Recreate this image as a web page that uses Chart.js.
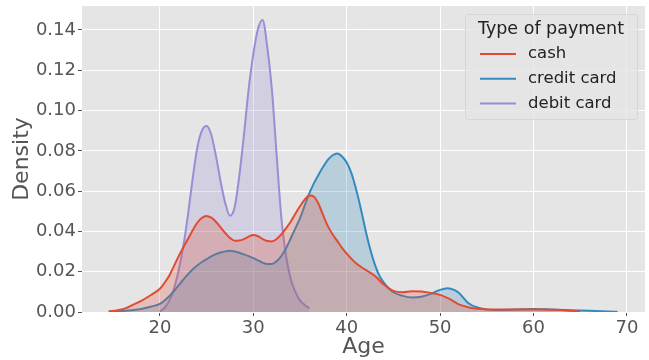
<!DOCTYPE html>
<html>
<head>
<meta charset="utf-8">
<script src="https://cdn.jsdelivr.net/npm/chart.js@4.4.0/dist/chart.umd.min.js"></script>
<style>
  html, body { margin: 0; padding: 0; background: #fff; }
  #wrap { width: 649px; height: 360px; }
</style>
</head>
<body>
<div id="wrap"><canvas id="kdeChart" width="649" height="360"></canvas></div>
<script>
// series (age -> density)
const seriesNames = ['cash', 'credit card', 'debit card'];
const lineColors = ['#E24A33', '#348ABD', '#988ED5'];
const fillColors = ['rgba(226,74,51,0.25)', 'rgba(52,138,189,0.25)', 'rgba(152,142,213,0.25)'];

const cashAge = [14.5, 15.5, 16.5, 17, 18, 19,
  20, 20.5, 21, 21.5, 22, 22.5, 23, 23.5, 24, 24.5, 25, 25.5, 26, 26.5, 27, 27.5, 28, 28.5, 29, 29.5,
  30, 30.5, 31, 31.5, 32, 32.5, 33, 33.5, 34, 34.5, 35, 35.5, 36, 36.5, 37, 37.5, 38, 38.5, 39, 39.5, 40,
  41, 42, 43, 44, 45, 46, 47, 48, 49, 50, 51, 52, 53, 54, 55, 57, 59, 61, 63, 64, 65];
const cashDensity = [0.0003, 0.0009, 0.0022, 0.0033, 0.0055, 0.0083,
  0.0115, 0.0145, 0.0180, 0.0228, 0.0276, 0.0320, 0.0362, 0.0405, 0.0443, 0.0468, 0.0477, 0.0468, 0.0448, 0.0420,
  0.0392, 0.0368, 0.0354, 0.0355, 0.0362, 0.0374, 0.0382, 0.0376, 0.0362, 0.0352, 0.0350, 0.0362, 0.0385, 0.0415,
  0.0448, 0.0488, 0.0525, 0.0558, 0.0578, 0.0572, 0.0535, 0.0478, 0.0425, 0.0385, 0.0352, 0.0318, 0.0290,
  0.0242, 0.0210, 0.0180, 0.0135, 0.0105, 0.0098, 0.0103, 0.0102, 0.0095, 0.0085, 0.0065, 0.0038, 0.0024, 0.0016, 0.0013,
  0.0012, 0.0013, 0.0013, 0.0010, 0.0006, 0.0002];

const creditAge = [15, 16, 17, 18, 19,
  20, 20.5, 21, 21.5, 22, 22.5, 23, 23.5, 24, 24.5, 25, 25.5, 26, 26.5, 27, 27.5, 28, 28.5, 29, 29.5,
  30, 30.5, 31, 31.5, 32, 32.5, 33, 33.5, 34, 34.5, 35, 35.5, 36, 36.5, 37, 37.5, 38, 38.5, 39, 39.5,
  40, 40.5, 41, 41.5, 42, 42.5, 43, 43.5, 44, 44.5, 45,
  46, 47, 48, 49, 50, 50.8, 51.5, 52, 53, 54, 55, 56, 58, 60, 62, 64, 66, 68, 69];
const creditDensity = [0.0002, 0.0005, 0.0009, 0.0015, 0.0026,
  0.0040, 0.0057, 0.0078, 0.0104, 0.0132, 0.0160, 0.0187, 0.0211, 0.0231, 0.0248,
  0.0262, 0.0276, 0.0287, 0.0295, 0.0301, 0.0304, 0.0300, 0.0294, 0.0286, 0.0277,
  0.0267, 0.0256, 0.0245, 0.0238, 0.0238, 0.0252, 0.0278, 0.0315, 0.0365, 0.0415,
  0.0465, 0.0528, 0.0589, 0.0640, 0.0683, 0.0722, 0.0756, 0.0778, 0.0787, 0.0772,
  0.0742, 0.0690, 0.0610, 0.0515, 0.0410, 0.0315, 0.0238, 0.0180, 0.0145, 0.0118, 0.0098,
  0.0080, 0.0072, 0.0076, 0.0090, 0.0110, 0.0118, 0.0110, 0.0095, 0.0045, 0.0022, 0.0013, 0.0010,
  0.0012, 0.0015, 0.0012, 0.0009, 0.0006, 0.0003, 0.0001];

const debitAge = [20, 20.5, 21, 21.5, 22, 22.5, 23, 23.5, 24, 24.5, 25, 25.5, 26, 26.5, 27, 27.5,
  28, 28.5, 29, 29.5, 30, 30.5, 31, 31.5, 32, 32.5, 33, 33.5, 34, 34.5, 35, 35.5, 36];
const debitDensity = [0.0003, 0.0020, 0.0055, 0.0115, 0.0205, 0.0325, 0.0480, 0.0660, 0.0815, 0.0900,
  0.0923, 0.0880, 0.0775, 0.0648, 0.0540, 0.0478, 0.0520, 0.0675, 0.0880, 0.1105,
  0.1280, 0.1405, 0.1450, 0.1315, 0.1100, 0.0780, 0.0470, 0.0280, 0.0165, 0.0100, 0.0058, 0.0035, 0.0020];

const xTicks = [20, 30, 40, 50, 60, 70];
const yTicks = [0, 0.02, 0.04, 0.06, 0.08, 0.10, 0.12, 0.14];

function toPoints(xs, ys) {
  return xs.map((x, i) => ({ x: x, y: ys[i] }));
}

const allAges = [cashAge, creditAge, debitAge];
const allDensities = [cashDensity, creditDensity, debitDensity];

Chart.defaults.font.family = "'DejaVu Sans', sans-serif";

// grey panel behind the plot (ggplot look)
const panelBg = {
  id: 'panelBg',
  beforeDraw(chart) {
    const { ctx, chartArea: a } = chart;
    ctx.save();
    ctx.fillStyle = '#E5E5E5';
    ctx.fillRect(a.left, a.top, a.right - a.left, a.bottom - a.top);
    ctx.restore();
  }
};

// legend box in the upper right corner of the plot
const legendBox = {
  id: 'legendBox',
  afterDraw(chart) {
    const { ctx, chartArea: a } = chart;
    const w = 172, h = 105;
    const x0 = a.right - 8 - w, y0 = a.top + 8;
    ctx.save();
    ctx.fillStyle = 'rgba(229,229,229,0.8)';
    ctx.strokeStyle = 'rgba(204,204,204,0.6)';
    ctx.lineWidth = 1;
    ctx.beginPath();
    ctx.roundRect(x0 + 0.5, y0 + 0.5, w, h, 3);
    ctx.fill();
    ctx.stroke();

    ctx.fillStyle = '#222';
    ctx.textBaseline = 'middle';
    ctx.textAlign = 'center';
    ctx.font = "17.5px 'DejaVu Sans'";
    ctx.fillText('Type of payment', x0 + w / 2, y0 + 15);

    ctx.textAlign = 'left';
    ctx.font = "16.5px 'DejaVu Sans'";
    chart.data.datasets.forEach((ds, i) => {
      const y = y0 + 40 + i * 24.7;
      ctx.strokeStyle = ds.borderColor;
      ctx.lineWidth = 2;
      ctx.beginPath();
      ctx.moveTo(x0 + 15, y);
      ctx.lineTo(x0 + 51, y);
      ctx.stroke();
      ctx.fillText(ds.label, x0 + 63, y);
    });
    ctx.restore();
  }
};

const datasets = seriesNames.map((name, i) => ({
  label: name,
  data: toPoints(allAges[i], allDensities[i]),
  borderColor: lineColors[i],
  backgroundColor: fillColors[i],
  borderWidth: 2,
  fill: 'origin',
  pointRadius: 0,
  cubicInterpolationMode: 'monotone'
}));

new Chart(document.getElementById('kdeChart').getContext('2d'), {
  type: 'line',
  data: { datasets: datasets },
  options: {
    responsive: false,
    animation: false,
    layout: { padding: { top: 6, right: 4, left: 0, bottom: 0 } },
    plugins: {
      legend: { display: false },
      tooltip: { enabled: false }
    },
    scales: {
      x: {
        type: 'linear',
        min: 11.66,
        max: 71.94,
        afterBuildTicks: s => { s.ticks = xTicks.map(v => ({ value: v })); },
        afterFit: s => { s.height = 48; s.paddingLeft = 0; s.paddingRight = 0; },
        grid: { color: '#ffffff', lineWidth: 1, tickColor: '#555555', tickLength: 4 },
        border: { display: false },
        ticks: { color: '#555555', font: { size: 18 }, padding: 2, maxRotation: 0 },
        title: { display: true, text: 'Age', color: '#555555', font: { size: 22, lineHeight: 1.2 }, padding: { top: 0, bottom: 0 } }
      },
      y: {
        min: 0,
        max: 0.1519,
        afterBuildTicks: s => { s.ticks = yTicks.map(v => ({ value: v })); },
        afterFit: s => { s.width = 82; s.paddingTop = 0; s.paddingBottom = 0; },
        grid: { color: '#ffffff', lineWidth: 1, tickColor: '#555555', tickLength: 4 },
        border: { display: false },
        ticks: { color: '#555555', font: { size: 18 }, padding: 2, callback: v => v.toFixed(2) },
        title: { display: true, text: 'Density', color: '#555555', font: { size: 22, lineHeight: 1.2 }, padding: { top: 9, bottom: 0 } }
      }
    }
  },
  plugins: [panelBg, legendBox]
});
</script>
</body>
</html>
